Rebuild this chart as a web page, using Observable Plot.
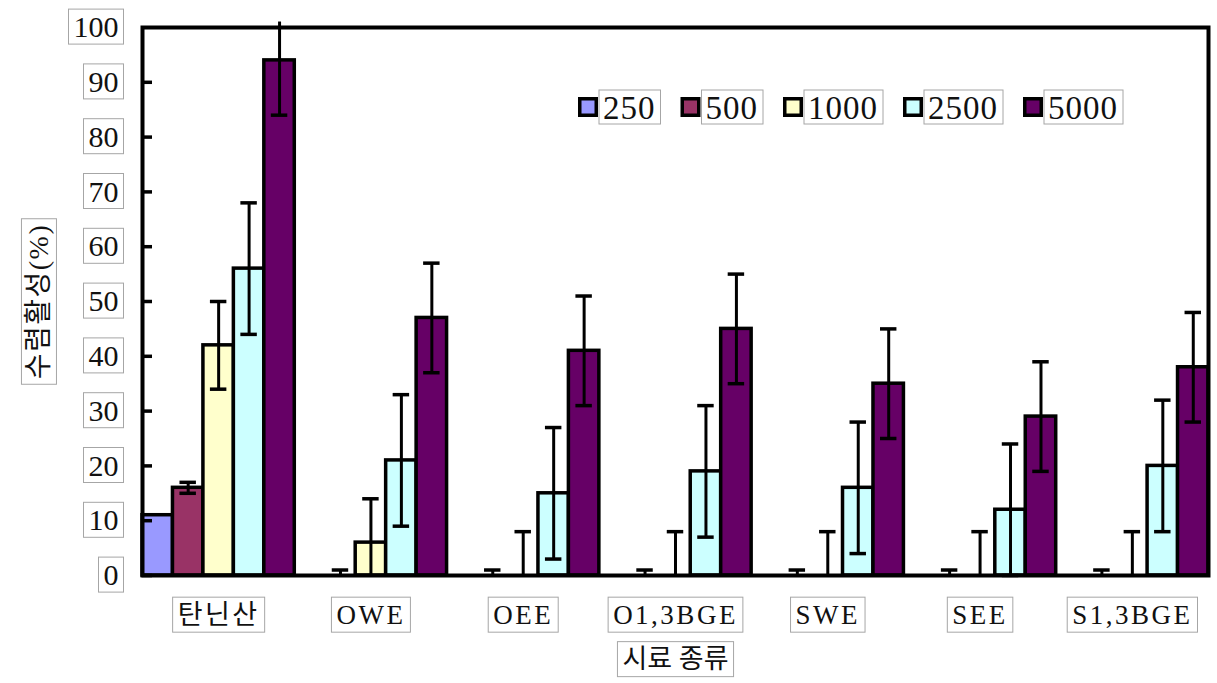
<!DOCTYPE html>
<html>
<head>
<meta charset="utf-8">
<script src="https://cdn.jsdelivr.net/npm/d3@7"></script>
<script src="https://cdn.jsdelivr.net/npm/@observablehq/plot@0.6"></script>
<style>
  html, body { margin: 0; padding: 0; background: #fff; }
  svg { display: block; }
</style>
</head>
<body>
<script>
// ---- data ----
const groups = ["탄닌산", "OWE", "OEE", "O1,3BGE", "SWE", "SEE", "S1,3BGE"];
const series = ["250", "500", "1000", "2500", "5000"];
const colors = ["#9999FF", "#993366", "#FFFFCC", "#CCFFFF", "#660066"];
const v250  = [11, 0, 0, 0, 0, 0, 0];
const v500  = [16, 0, 0, 0, 0, 0, 0];
const v1000 = [42, 6, 0, 0, 0, 0, 0];
const v2500 = [56, 21, 15, 19, 16, 12, 20];
const v5000 = [94, 47, 41, 45, 35, 29, 38];
const e250  = [0, 0, 0, 0, 0, 0, 0];
const e500  = [1, 1, 1, 1, 1, 1, 1];
const e1000 = [8, 8, 8, 8, 8, 8, 8];
const e2500 = [12, 12, 12, 12, 12, 12, 12];
const e5000 = [10, 10, 10, 10, 10, 10, 10];
const yTicks = [0, 10, 20, 30, 40, 50, 60, 70, 80, 90, 100];
const yTitle = "수렴활성(%)";
const xTitle = "시료 종류";

const values = [v250, v500, v1000, v2500, v5000];
const errors = [e250, e500, e1000, e2500, e5000];

const rows = [];
groups.forEach((g, gi) => {
  series.forEach((s, si) => {
    rows.push({group: g, series: s, key: g + "|" + s, value: values[si][gi], err: errors[si][gi]});
  });
});
const keys = rows.map(d => d.key);
const centerKeys = groups.map(g => g + "|" + series[2]);
const YMAX = 101;
const errRows = rows.filter(d => d.err > 0);
const upperCaps = errRows.filter(d => d.value + d.err <= 100);
const lowerCaps = errRows.filter(d => d.value - d.err >= 0);

const serif = "'Liberation Serif', 'Noto Sans CJK KR', serif";

const plot = Plot.plot({
  width: 1217,
  height: 683,
  marginLeft: 142,
  marginRight: 9,
  marginTop: 27,
  marginBottom: 108,
  style: {fontFamily: serif, background: "#fff", color: "#111"},
  x: {type: "band", domain: keys, padding: 0, round: false, axis: null},
  y: {domain: [0, 100], axis: null},
  color: {domain: series, range: colors},
  marks: [
    Plot.barY(rows, {x: "key", y: "value", fill: "series", stroke: "black", strokeWidth: 3.5}),
    Plot.ruleX(errRows, {x: "key", y1: d => Math.max(0, d.value - d.err), y2: d => Math.min(d.value + d.err, YMAX), stroke: "black", strokeWidth: 3}),
    Plot.tickY(upperCaps, {x: "key", y: d => d.value + d.err, insetLeft: 7, insetRight: 7, stroke: "black", strokeWidth: 3.5}),
    Plot.tickY(lowerCaps, {x: "key", y: d => d.value - d.err, insetLeft: 7, insetRight: 7, stroke: "black", strokeWidth: 3.5}),
    Plot.frame({stroke: "black", strokeWidth: 4}),
    Plot.axisY({ticks: yTicks.filter(t => t < 100), tickSize: 10, dx: 10, fill: "none", label: null, strokeWidth: 3.5, stroke: "black"}),
    Plot.axisY({ticks: yTicks, tickSize: 0, tickPadding: 24, fontSize: 30, label: null, className: "boxed", fill: "#111"}),
    Plot.axisX({ticks: centerKeys, tickFormat: d => d.split("|")[0], tickSize: 0, tickPadding: 29, fontSize: 27, label: null, className: "boxed xlab", fill: "#111"}),
    Plot.text([yTitle], {text: d => d, frameAnchor: "left", textAnchor: "middle", lineAnchor: "middle", dx: -103, rotate: -90, fontSize: 28, fill: "#111", className: "boxed ylab"}),
    Plot.text([xTitle], {text: d => d, frameAnchor: "bottom", textAnchor: "middle", lineAnchor: "middle", dy: 84, fontSize: 27, fill: "#111", className: "boxed"})
  ]
});

document.body.append(plot);
const svg = d3.select(plot);

// letter spacing for x labels and y title
svg.selectAll(".xlab text").style("letter-spacing", "2.5px");
svg.selectAll(".ylab text").style("letter-spacing", "1.5px");

// boxes around texts
function boxText(node, padX, h) {
  const bb = node.getBBox();
  const cy = bb.y + bb.height / 2;
  const rect = document.createElementNS("http://www.w3.org/2000/svg", "rect");
  rect.setAttribute("x", bb.x - padX);
  rect.setAttribute("y", cy - h / 2);
  rect.setAttribute("width", bb.width + 2 * padX);
  rect.setAttribute("height", h);
  rect.setAttribute("fill", "white");
  rect.setAttribute("stroke", "#a6a6a6");
  rect.setAttribute("stroke-width", 1);
  const t = node.getAttribute("transform");
  if (t) rect.setAttribute("transform", t);
  node.parentNode.insertBefore(rect, node);
}
svg.selectAll(".boxed text").each(function() { boxText(this, 5, 35); });

// legend
const lg = svg.append("g").attr("font-family", serif).attr("font-size", 33).attr("text-anchor", "start");
let lx = 578;
const ly = 107;
series.forEach((s, i) => {
  lg.append("rect").attr("x", lx + 1.75).attr("y", ly - 8.25).attr("width", 16.5).attr("height", 16.5)
    .attr("fill", colors[i]).attr("stroke", "black").attr("stroke-width", 3.5);
  const box = lg.append("rect").attr("x", lx + 21).attr("y", ly - 17).attr("height", 34)
    .attr("fill", "white").attr("stroke", "#a6a6a6").attr("stroke-width", 1);
  const t = lg.append("text").attr("x", lx + 25).attr("y", ly).attr("dy", "0.35em")
    .attr("fill", "#111").style("letter-spacing", "1px").text(s);
  const w = t.node().getComputedTextLength();
  box.attr("width", w + 9);
  lx += 21 + w + 9 + 20;
});
</script>
</body>
</html>
